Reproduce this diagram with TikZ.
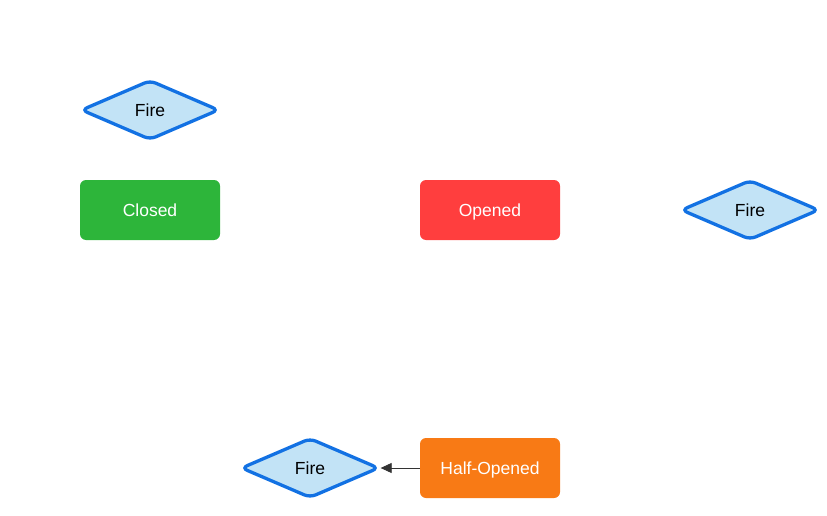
\documentclass[tikz,border=0pt]{standalone}
\usepackage{fontspec}
\setmainfont{Liberation Sans}
\usetikzlibrary{shapes.geometric,arrows.meta}
\definecolor{dstroke}{HTML}{1271E3}
\definecolor{dfill}{HTML}{C2E3F6}
\definecolor{cgreen}{HTML}{2DB53A}
\definecolor{cred}{HTML}{FF3E3E}
\definecolor{corange}{HTML}{F87A15}
\definecolor{cline}{HTML}{333333}
\tikzset{
  decision/.style={diamond, draw=dstroke, fill=dfill, line width=3.3pt, rounded corners=6pt,
    minimum width=138pt, minimum height=60pt, inner sep=0pt, aspect=2.3,
    font=\fontsize{17.5}{20}\selectfont, text=black, text height=12.5pt, text depth=0pt},
  state/.style={rectangle, rounded corners=6pt, minimum width=140pt, minimum height=60pt,
    inner sep=0pt, font=\fontsize{17.5}{20}\selectfont, text=white, text height=12.5pt, text depth=0pt},
  conn/.style={draw=cline, line width=0.8pt, -{Triangle[length=11pt,width=10pt]}}
}
\begin{document}
\begin{tikzpicture}[x=1pt,y=-1pt]
\useasboundingbox (0,0) rectangle (827,516);
\node[decision] (fire1) at (150,110) {Fire};
\node[state, fill=cgreen] (closed) at (150,210) {Closed};
\node[state, fill=cred] (opened) at (490,210) {Opened};
\node[decision] (fire2) at (750,210) {Fire};
\node[decision] (fire3) at (310,468) {Fire};
\node[state, fill=corange] (half) at (490,468) {Half-Opened};
\draw[conn] (half.west) -- (fire3.east);
\end{tikzpicture}
\end{document}
